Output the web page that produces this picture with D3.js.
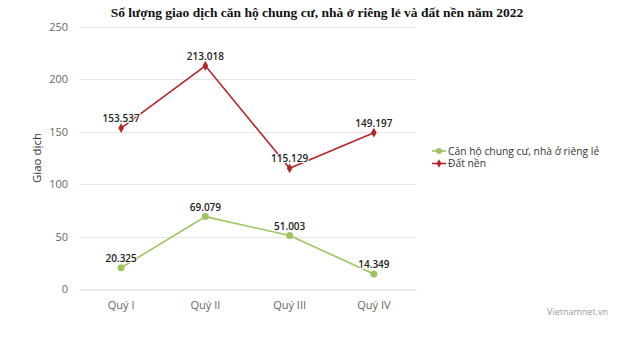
<!DOCTYPE html>
<html><head><meta charset="utf-8">
<script src="https://cdn.jsdelivr.net/npm/d3@7"></script>
<style>body{margin:0;background:#fff}svg{display:block}</style>
</head><body><svg id="c" width="627" height="356"></svg>
<script>
const categories = ["Quý I","Quý II","Quý III","Quý IV"];
const seriesNames = ["Căn hộ chung cư, nhà ở riêng lẻ","Đất nền"];
const canHo = [20.325, 69.079, 51.003, 14.349];
const datNen = [153.537, 213.018, 115.129, 149.197];
const yTicks = [0,50,100,150,200,250];
const colors = ["#9dc45e","#b3262c"];

const svg = d3.select("#c");
const m = {l:79, r:416, t:27, b:289};
const x = d3.scaleBand().domain(categories).range([m.l, m.r]);
const y = d3.scaleLinear().domain([0,250]).range([m.b, m.t]);
const fmt = v => v.toFixed(3);

svg.append("text").attr("x",317).attr("y",17).attr("text-anchor","middle")
  .attr("font-family","Liberation Serif, Times New Roman, serif").attr("font-weight","bold")
  .attr("font-size",13.5).attr("fill","#111").text("Số lượng giao dịch căn hộ chung cư, nhà ở riêng lẻ và đất nền năm 2022");

// grid
svg.append("g").selectAll("line").data(yTicks.filter(d=>d>0)).join("line")
  .attr("x1",m.l).attr("x2",m.r).attr("y1",d=>Math.round(y(d))+0.5).attr("y2",d=>Math.round(y(d))+0.5)
  .attr("stroke","#e6e6e6");
const ya = svg.append("g").attr("transform",`translate(${m.l-8},0)`)
  .call(d3.axisLeft(y).tickValues(yTicks).tickSize(0).tickPadding(3));
ya.select(".domain").remove();
ya.selectAll("text").attr("font-family","Open Sans, sans-serif").attr("font-size",11).attr("fill","#666");

const xa = svg.append("g").attr("transform",`translate(0,${m.b+0.5})`)
  .call(d3.axisBottom(x).tickSize(0).tickPadding(12));
xa.select(".domain").attr("stroke","#ccd6eb");
xa.selectAll("text").attr("font-family","Open Sans, sans-serif").attr("font-size",11).attr("fill","#666");

svg.append("text").attr("transform","translate(41,158) rotate(-90)").attr("text-anchor","middle")
  .attr("font-family","Open Sans, sans-serif").attr("font-size",11.5).attr("fill","#333").text("Giao dịch");

const cx = c => x(c) + x.bandwidth()/2;
const line = d3.line().x((d,i)=>cx(categories[i])).y(d=>y(d));
[canHo, datNen].forEach((s,k)=>{
  const g = svg.append("g");
  g.append("path").attr("d",line(s)).attr("fill","none").attr("stroke",colors[k]).attr("stroke-width",1.6);
  if(k===0){
    g.selectAll("circle").data(s).join("circle").attr("cx",(d,i)=>cx(categories[i])).attr("cy",d=>y(d)).attr("r",3.5).attr("fill",colors[k]);
  } else {
    g.selectAll("path.m").data(s).join("path").attr("class","m")
      .attr("d",d3.symbol(d3.symbolDiamond,28)())
      .attr("transform",(d,i)=>`translate(${cx(categories[i])},${y(d)})`).attr("fill",colors[k]);
  }
  g.selectAll("text").data(s).join("text").attr("x",(d,i)=>cx(categories[i])).attr("y",d=>y(d)-6)
    .attr("text-anchor","middle").attr("font-family","Open Sans, sans-serif").attr("font-size",10)
    .attr("font-weight",600).attr("fill","#222")
    .attr("stroke","#fff").attr("stroke-width",2).attr("paint-order","stroke").text(fmt);
});

// legend
const lg = svg.append("g").attr("transform","translate(432,151)");
seriesNames.forEach((n,k)=>{
  const r = lg.append("g").attr("transform",`translate(0,${k*12.5})`);
  r.append("line").attr("x1",0).attr("x2",14).attr("stroke",colors[k]).attr("stroke-width",1.6);
  if(k===0) r.append("circle").attr("cx",7).attr("r",3).attr("fill",colors[k]);
  else r.append("path").attr("d",d3.symbol(d3.symbolDiamond,22)()).attr("transform","translate(7,0)").attr("fill",colors[k]);
  r.append("text").attr("x",16).attr("y",3.5).attr("font-family","Open Sans, sans-serif").attr("font-size",10.3)
    .attr("fill","#333").text(n);
});

svg.append("text").attr("x",608).attr("y",315).attr("text-anchor","end")
  .attr("font-family","Open Sans, sans-serif").attr("font-size",9).attr("fill","#999").text("Vietnamnet.vn");
</script></body></html>
